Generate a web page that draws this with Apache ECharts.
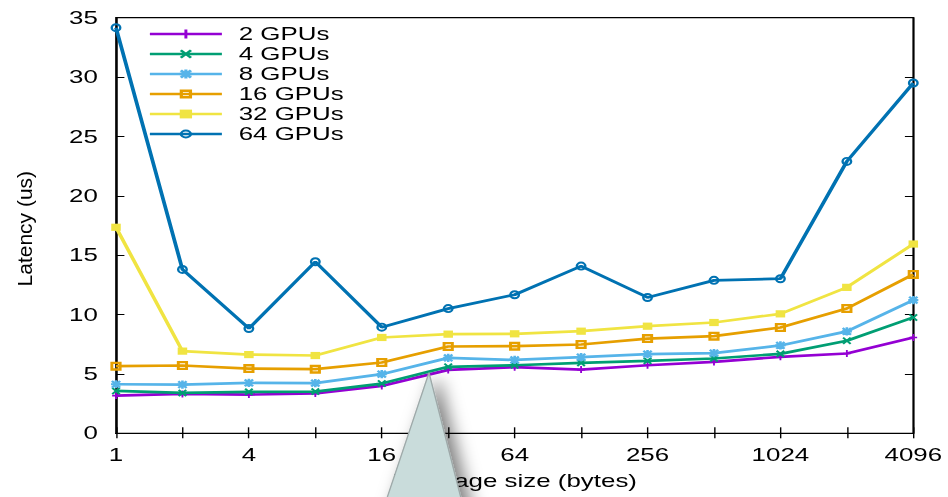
<!DOCTYPE html>
<html>
<head>
<meta charset="utf-8">
<script src="https://cdn.jsdelivr.net/npm/echarts@6/dist/echarts.min.js"></script>
<style>
  html, body { margin: 0; padding: 0; background: #fff; overflow: hidden; }
  #stage { position: absolute; left: 0; top: 0; width: 948px; height: 497px; overflow: hidden; }
  /* the plot is laid out on a narrower canvas and widened, giving the wide gnuplot look */
  #chart { position: absolute; left: 0; top: 0; width: 677px; height: 497px;
           transform: scaleX(1.4003); transform-origin: 0 0; }
</style>
</head>
<body>
<div id="stage"><div id="chart"></div></div>
<script>
// message sizes (bytes)
const categories = ['1', '2', '4', '8', '16', '32', '64', '128', '256', '512', '1024', '2048', '4096'];

// latency (us) per GPU count
const gpus2  = [3.18, 3.32, 3.26, 3.35, 3.99, 5.34, 5.57, 5.37, 5.73, 6.01, 6.44, 6.72, 8.07];
const gpus4  = [3.57, 3.40, 3.49, 3.51, 4.19, 5.60, 5.73, 5.93, 6.10, 6.30, 6.69, 7.79, 9.76];
const gpus8  = [4.13, 4.10, 4.24, 4.22, 4.98, 6.35, 6.18, 6.41, 6.66, 6.75, 7.40, 8.58, 11.22];
const gpus16 = [5.65, 5.71, 5.45, 5.40, 5.96, 7.31, 7.34, 7.48, 7.98, 8.18, 8.91, 10.51, 13.38];
const gpus32 = [17.35, 6.92, 6.63, 6.55, 8.07, 8.35, 8.38, 8.60, 9.02, 9.33, 10.06, 12.29, 15.94];
const gpus64 = [34.16, 13.80, 8.83, 14.45, 8.94, 10.50, 11.67, 14.08, 11.44, 12.88, 13.02, 22.90, 29.50];

const seriesNames = ['2 GPUs', '4 GPUs', '8 GPUs', '16 GPUs', '32 GPUs', '64 GPUs'];
const seriesColors = ['#9400d3', '#009e73', '#56b4e9', '#e69f00', '#f0e442', '#0072b2'];

// y axis range
const yMin = 0, yMax = 35, yStep = 5;

const SX = 1.4003;              // horizontal widening of the chart box
const FONT = 'Liberation Sans, Arial, Helvetica, sans-serif';

// gnuplot-like point types
const PLUS  = 'path://M3.8,0H6.2V3.8H10V6.2H6.2V10H3.8V6.2H0V3.8H3.8Z';
const CROSS = 'path://M1.7,0L5,3.3L8.3,0L10,1.7L6.7,5L10,8.3L8.3,10L5,6.7L1.7,10L0,8.3L3.3,5L0,1.7Z';
const STAR  = 'path://M3.7,0H6.3V3.7H10V6.3H6.3V10H3.7V6.3H0V3.7H3.7Z M1.8,0L5,3.2L8.2,0L10,1.8L6.8,5L10,8.2L8.2,10L5,6.8L1.8,10L0,8.2L3.2,5L0,1.8Z';
const BOX   = 'path://M0,0H10V10H0Z M2.6,2.6V7.4H7.4V2.6Z';
const FBOX  = 'path://M0,0H10V10H0Z';
const RING  = 'path://M10,5A5,5 0 1,1 0,5A5,5 0 1,1 10,5Z M7.8,5A2.8,2.8 0 1,0 2.2,5A2.8,2.8 0 1,0 7.8,5Z';

const seriesData = [gpus2, gpus4, gpus8, gpus16, gpus32, gpus64];
const symbols = [PLUS, CROSS, STAR, BOX, FBOX, RING];
const symbolSizes = [[5.5, 7], [6.5, 7.5], [7.2, 8.2], [8, 9], [6.8, 7.2], [7.8, 9]];

const chart = echarts.init(document.getElementById('chart'), null, { renderer: 'svg' });

const axisTextStyle = { fontFamily: FONT, fontSize: 18.5, color: '#000' };

chart.setOption({
  animation: false,
  backgroundColor: '#fff',
  grid: {
    left: 116 / SX, right: 677 - 913.3 / SX, top: 17.7, bottom: 497 - 433.3,
    show: true, borderColor: '#000', borderWidth: 1.2, backgroundColor: 'transparent'
  },
  legend: {
    orient: 'vertical',
    left: 148 / SX,
    top: 24,
    padding: 0,
    itemWidth: 72 / SX,
    itemHeight: 11,
    itemGap: 0,
    lineStyle: { width: 2.7 },
    textStyle: { fontFamily: FONT, fontSize: 18.5, color: '#000', lineHeight: 20, padding: [0, 0, 0, 7] },
    data: seriesNames
  },
  xAxis: [{
    type: 'category',
    data: categories,
    boundaryGap: false,
    position: 'bottom',
    axisLine: { show: true, lineStyle: { color: '#000', width: 1.2 } },
    axisTick: { show: true, inside: true, length: 6, interval: 0, lineStyle: { color: '#000', width: 1 } },
    axisLabel: { interval: 1, margin: 12, ...axisTextStyle },
    splitLine: { show: false },
    name: 'Message size (bytes)',
    nameLocation: 'middle',
    nameGap: 38,
    nameTextStyle: axisTextStyle
  }, {
    type: 'category',
    data: categories,
    boundaryGap: false,
    position: 'top',
    axisLine: { show: true, lineStyle: { color: '#000', width: 1.2 } },
    axisTick: { show: true, inside: true, length: 5, interval: 0, lineStyle: { color: '#000', width: 1 } },
    axisLabel: { show: false },
    splitLine: { show: false }
  }],
  yAxis: [{
    type: 'value',
    min: yMin, max: yMax, interval: yStep,
    position: 'left',
    axisLine: { show: true, lineStyle: { color: '#000', width: 1.2 } },
    axisTick: { show: true, inside: true, length: 6, lineStyle: { color: '#000', width: 1 } },
    axisLabel: { margin: 13, ...axisTextStyle },
    splitLine: { show: false }
  }, {
    type: 'value',
    min: yMin, max: yMax, interval: yStep,
    position: 'right',
    axisLine: { show: true, lineStyle: { color: '#000', width: 1.2 } },
    axisTick: { show: true, inside: true, length: 6, lineStyle: { color: '#000', width: 1 } },
    axisLabel: { show: false },
    splitLine: { show: false }
  }],
  series: seriesNames.map((name, i) => ({
    name,
    type: 'line',
    xAxisIndex: 0,
    yAxisIndex: 0,
    data: seriesData[i],
    symbol: symbols[i],
    symbolSize: symbolSizes[i],
    showAllSymbol: true,
    lineStyle: { color: seriesColors[i], width: 2.7 },
    itemStyle: { color: seriesColors[i] },
    emphasis: { disabled: true },
    z: 2 + i
  })),
  graphic: [
    {
      // y axis title, kept at its natural proportions inside the widened box
      type: 'text',
      x: 25 / SX,
      y: 228.7,
      rotation: Math.PI / 2,
      scaleY: 1 / SX,
      style: { text: 'Latency (us)', fontFamily: FONT, fontSize: 21, fill: '#000', align: 'center', verticalAlign: 'middle' },
      z: 50
    },
    {
      // callout pointer
      type: 'polygon',
      shape: { points: [[429 / SX, 372.7], [383 / SX, 510], [464 / SX, 510]] },
      style: {
        fill: '#c9dcdb', stroke: '#9ea9a9', lineWidth: 1,
        shadowBlur: 12, shadowOffsetX: 6, shadowOffsetY: 3, shadowColor: 'rgba(0,0,0,0.5)'
      },
      z: 100
    }
  ]
});
</script>
</body>
</html>
